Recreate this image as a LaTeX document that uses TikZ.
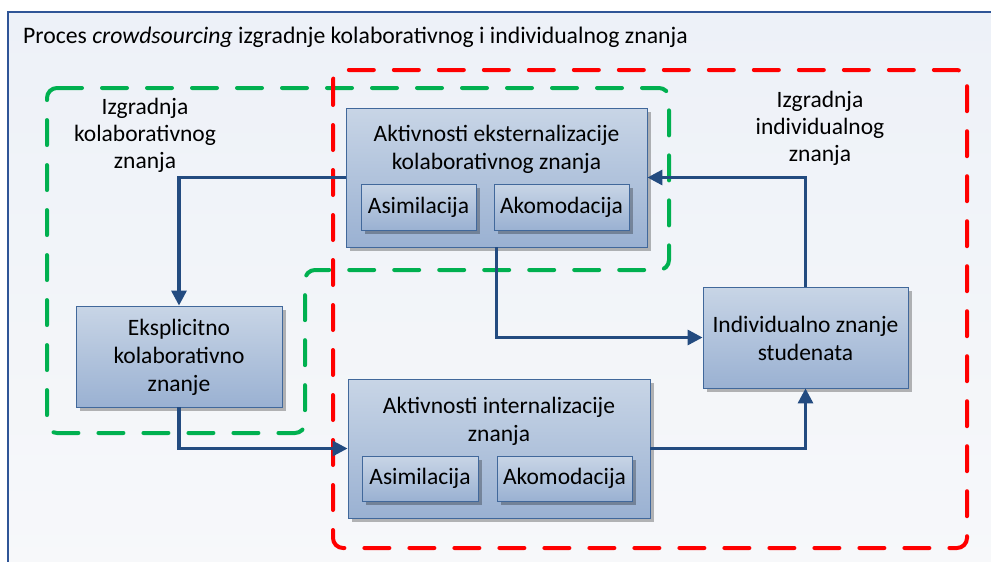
\documentclass[tikz,border=0pt]{standalone}
\usepackage{fontspec}
\setmainfont{Carlito}
\usetikzlibrary{arrows.meta,shadows}

\definecolor{frameblue}{HTML}{2F5597}
\definecolor{framebgtop}{HTML}{EDF1F8}
\definecolor{framebgbot}{HTML}{F7F8FA}
\definecolor{boxtop}{HTML}{C8D5E6}
\definecolor{boxbot}{HTML}{9AB1D2}
\definecolor{boxline}{HTML}{41689B}
\definecolor{flowblue}{HTML}{234B80}
\definecolor{zonegreen}{HTML}{00B050}
\definecolor{zonered}{HTML}{FF0000}

\tikzset{
  procbox/.style={draw=boxline, line width=0.9pt, top color=boxtop, bottom color=boxbot,
    inner sep=0pt, drop shadow={shadow xshift=3.5pt, shadow yshift=-3.5pt, fill=black, opacity=0.28}},
  subbox/.style={procbox, font=\fontsize{23.5}{28}\selectfont},
  boxtext/.style={align=center, inner sep=0pt, font=\fontsize{23.5}{28}\selectfont},
  zonetext/.style={align=center, inner sep=0pt, font=\fontsize{23.5}{27}\selectfont},
  flow/.style={draw=flowblue, line width=3.2pt, -{Triangle[length=15pt,width=15pt]}},
  zone/.style={line width=4pt, line cap=round, dash pattern=on 25pt off 20pt, rounded corners=10pt},
}

\begin{document}
\begin{tikzpicture}[x=1pt,y=-1pt]
\useasboundingbox (0,0) rectangle (991,562);
\clip (0,0) rectangle (991,562);

% outer panel
\path[draw=frameblue, line width=1.3pt, top color=framebgtop, bottom color=framebgbot]
  (8,12) rectangle (1000,575);
\node[anchor=base west, inner sep=0pt, font=\fontsize{23.7}{28}\selectfont] (title) at (23,43)
  {Proces \textit{crowdsourcing} izgradnje kolaborativnog i individualnog znanja};

% dashed zones
\draw[zone, draw=zonegreen] (47,88) -- (669,88) -- (669,270) -- (305,270) -- (305,433) -- (47,433) -- cycle;
\draw[zone, draw=zonered] (333,70) rectangle (967,548);

\node[zonetext] (lblkol) at (145,135) {Izgradnja\\kolaborativnog\\znanja};
\node[zonetext] (lblind) at (820,128) {Izgradnja\\individualnog\\znanja};

% process boxes
\node[procbox, minimum width=301pt, minimum height=139pt] (ext) at (496.5,177.5) {};
\node[boxtext] (exttext) at (496.5,149) {Aktivnosti eksternalizacije\\kolaborativnog znanja};
\node[subbox, minimum width=115pt, minimum height=46pt] (extA) at (418.5,207) {Asimilacija};
\node[subbox, minimum width=135pt, minimum height=46pt] (extK) at (561.5,207) {Akomodacija};

\node[procbox, minimum width=206pt, minimum height=101pt] (eks) at (179,356.5) {};
\node[boxtext] (ekstext) at (179,357) {Eksplicitno\\kolaborativno\\znanje};

\node[procbox, minimum width=205pt, minimum height=101pt] (ind) at (805.5,337.5) {};
\node[boxtext] (indtext) at (805.5,338) {Individualno znanje\\studenata};

\node[procbox, minimum width=302pt, minimum height=139pt] (int) at (499,448.5) {};
\node[boxtext] (inttext) at (499,421) {Aktivnosti internalizacije\\znanja};
\node[subbox, minimum width=116pt, minimum height=45pt] (intA) at (420,478.5) {Asimilacija};
\node[subbox, minimum width=135pt, minimum height=45pt] (intK) at (564.5,478.5) {Akomodacija};

% flows between the process boxes
\draw[flow] (ext.west) -| (eks.north);
\draw[flow] (eks.south) |- (int.west);
\draw[flow] (int.east) -| (ind.south);
\draw[flow] (ind.north) |- (ext.east);
\draw[flow] (ext.south) |- (ind.west);
\end{tikzpicture}
\end{document}
